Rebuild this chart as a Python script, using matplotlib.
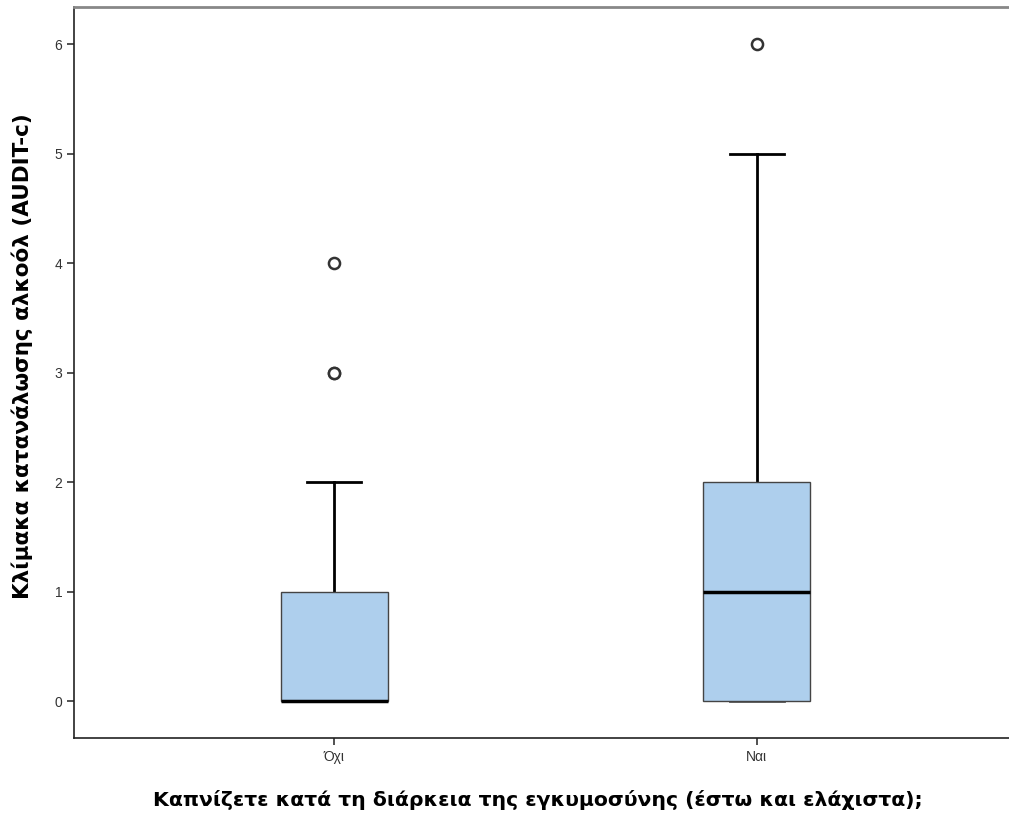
import matplotlib
matplotlib.use("Agg")
import matplotlib.pyplot as plt

plt.rcParams['font.family'] = ['Liberation Sans', 'DejaVu Sans']

categories = ["Όχι", "Ναι"]
q1 = [0, 0]
medians = [0, 1]
q3 = [1, 2]
whisker_low = [0, 0]
whisker_high = [2, 5]
outliers = [[3, 3, 4], [6]]
yticks = [0, 1, 2, 3, 4, 5, 6]

fig = plt.figure(figsize=(10.09, 8.18), dpi=100)
ax = fig.add_axes([74/1009, 80/818, 1 - 74/1009 + 0.01, 731/818])

stats = []
for i, c in enumerate(categories):
    stats.append(dict(label=c, med=medians[i], q1=q1[i], q3=q3[i],
                      whislo=whisker_low[i], whishi=whisker_high[i], fliers=outliers[i]))

bp = ax.bxp(stats, positions=[0, 1], widths=0.253, patch_artist=True, showfliers=True,
            boxprops=dict(facecolor='#AECFED', edgecolor='#444444', linewidth=1.0, zorder=3),
            medianprops=dict(color='black', linewidth=2.5, solid_capstyle='butt', zorder=4),
            whiskerprops=dict(color='black', linewidth=2.0, zorder=2),
            capprops=dict(color='#555555', linewidth=2.0, zorder=2),
            capwidths=0.127,
            flierprops=dict(marker='o', markerfacecolor='white', markeredgecolor='#333333',
                            markersize=8, markeredgewidth=1.8, linestyle='none'))
for j, cap in enumerate(bp['caps']):
    if j % 2 == 1:
        cap.set_color('black')

ax.set_xlim(-0.615, 1.62)
ax.set_ylim(-0.338, 6.34)
ax.set_yticks(yticks)
ax.set_yticklabels([str(v) for v in yticks])
ax.set_xticks([0, 1])
ax.set_xticklabels(categories)
ax.tick_params(axis='both', labelsize=10, colors='#333333', length=5, width=1.2)

ax.spines['right'].set_visible(False)
ax.spines['top'].set_color('#888888')
ax.spines['top'].set_linewidth(2.0)
ax.spines['left'].set_color('#222222')
ax.spines['bottom'].set_color('#222222')
ax.spines['left'].set_linewidth(1.2)
ax.spines['bottom'].set_linewidth(1.2)

fig.text(22/1009, 1 - 356/818, "Κλίμακα κατανάλωσης αλκοόλ (AUDIT-c)", rotation=90,
         fontsize=15.5, fontweight='bold', family='DejaVu Sans', ha='center', va='center')
fig.text(538/1009, 1 - 800/818,
         "Καπνίζετε κατά τη διάρκεια της εγκυμοσύνης (έστω και ελάχιστα);",
         fontsize=14.7, fontweight='bold', family='DejaVu Sans', ha='center', va='center')

fig.savefig("out.png", dpi=100)
